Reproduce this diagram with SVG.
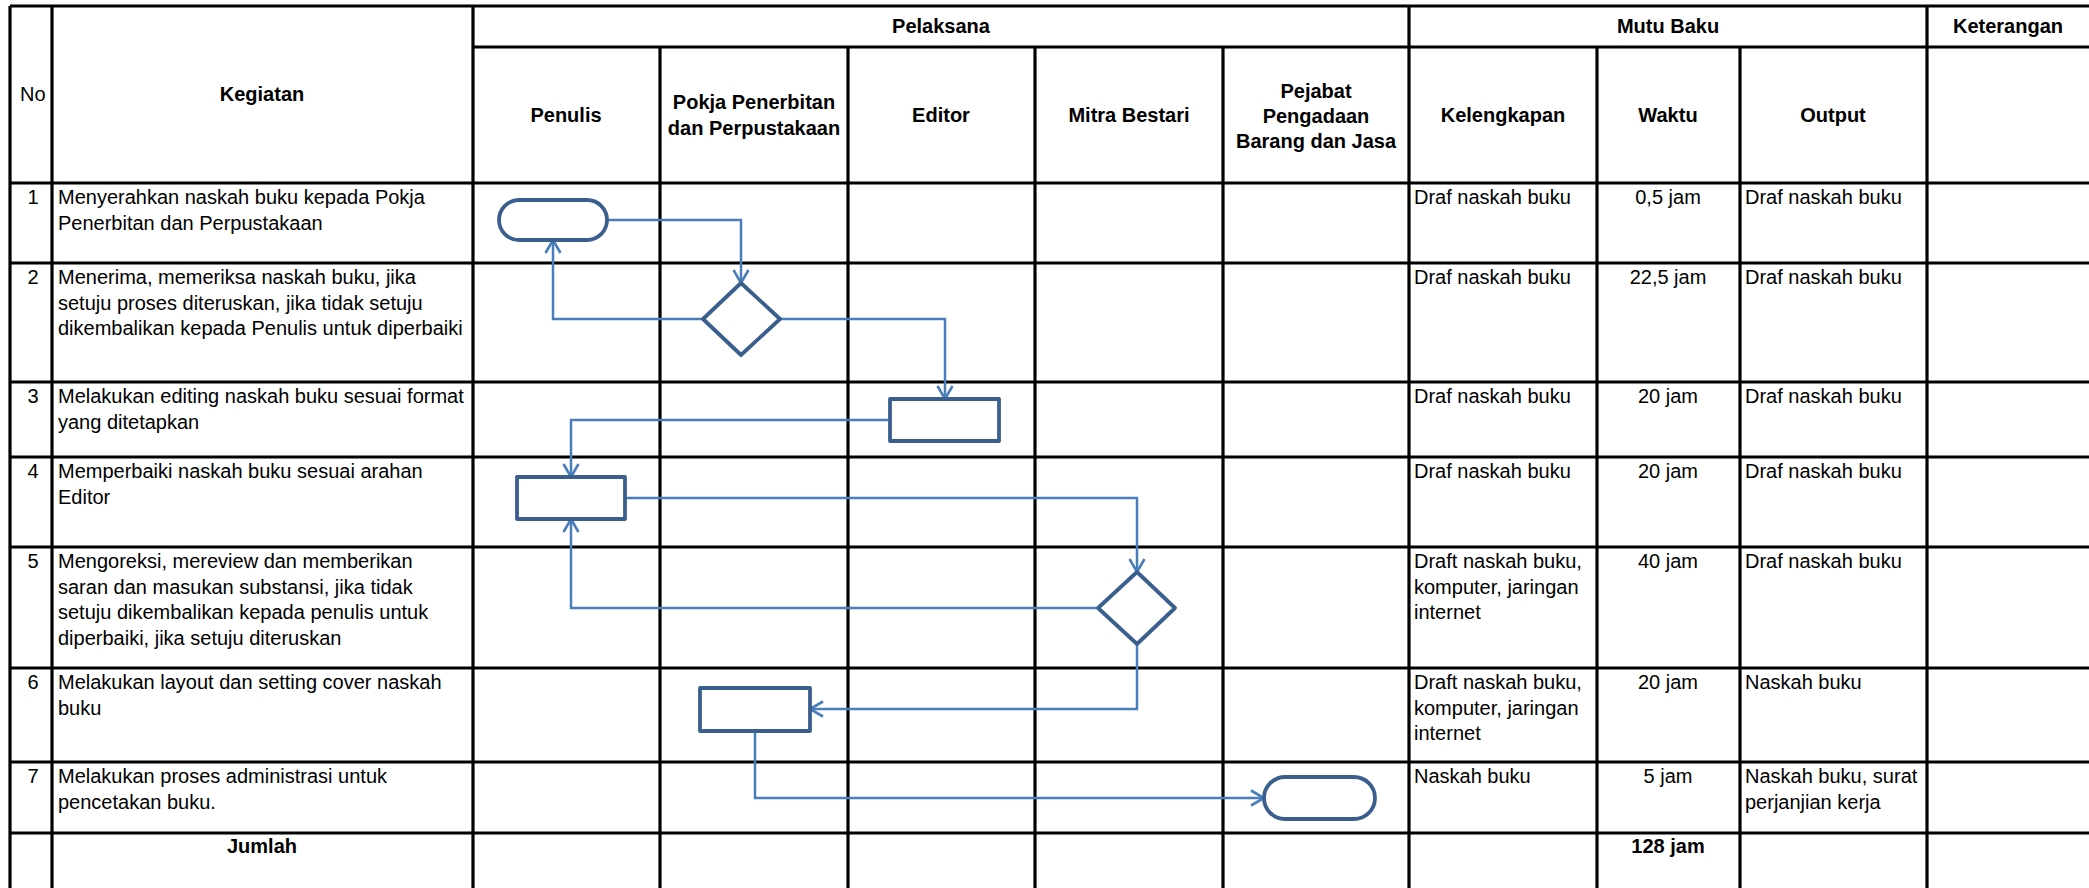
<svg xmlns="http://www.w3.org/2000/svg" width="2089" height="888" viewBox="0 0 2089 888">
<style>
text{font-family:"Liberation Sans",Arial,sans-serif;font-size:20px;fill:#000}
.b{font-weight:bold}
.c{text-anchor:middle}
.grid line{stroke:#000;stroke-width:3.2}
.shape{fill:#fff;stroke:#3A5F8E;stroke-width:3.8;stroke-linejoin:round}
.conn path{fill:none;stroke:#4A7EBB;stroke-width:2.5;marker-end:url(#arr)}
</style>
<defs>
<marker id="arr" markerUnits="userSpaceOnUse" markerWidth="20" markerHeight="20" viewBox="0 0 20 20" refX="16" refY="10" orient="auto">
<path d="M3,2.5 L16,10 L3,17.5" fill="none" stroke="#4A7EBB" stroke-width="2.6"/>
</marker>
</defs>
<rect width="2089" height="888" fill="#fff"/>
<g id="table" class="grid">
<line x1="10" y1="6" x2="2089" y2="6"/>
<line x1="473" y1="47" x2="2089" y2="47"/>
<line x1="10" y1="183" x2="2089" y2="183"/>
<line x1="10" y1="263" x2="2089" y2="263"/>
<line x1="10" y1="382" x2="2089" y2="382"/>
<line x1="10" y1="457" x2="2089" y2="457"/>
<line x1="10" y1="547" x2="2089" y2="547"/>
<line x1="10" y1="668" x2="2089" y2="668"/>
<line x1="10" y1="762" x2="2089" y2="762"/>
<line x1="10" y1="833" x2="2089" y2="833"/>
<line x1="10" y1="6" x2="10" y2="888"/>
<line x1="52" y1="6" x2="52" y2="888"/>
<line x1="473" y1="6" x2="473" y2="888"/>
<line x1="660" y1="47" x2="660" y2="888"/>
<line x1="848" y1="47" x2="848" y2="888"/>
<line x1="1035" y1="47" x2="1035" y2="888"/>
<line x1="1223" y1="47" x2="1223" y2="888"/>
<line x1="1409" y1="6" x2="1409" y2="888"/>
<line x1="1597" y1="47" x2="1597" y2="888"/>
<line x1="1740" y1="47" x2="1740" y2="888"/>
<line x1="1927" y1="6" x2="1927" y2="888"/>
</g>
<g id="header">
<text x="20" y="101">No</text>
<text class="b c" x="262" y="101">Kegiatan</text>
<text class="b c" x="941" y="33">Pelaksana</text>
<text class="b c" x="1668" y="33">Mutu Baku</text>
<text class="b c" x="2008" y="33">Keterangan</text>
<text class="b c" x="566" y="122">Penulis</text>
<text class="b c" x="754" y="109">Pokja Penerbitan</text>
<text class="b c" x="754" y="135">dan Perpustakaan</text>
<text class="b c" x="941" y="122">Editor</text>
<text class="b c" x="1129" y="122">Mitra Bestari</text>
<text class="b c" x="1316" y="98">Pejabat</text>
<text class="b c" x="1316" y="123">Pengadaan</text>
<text class="b c" x="1316" y="148">Barang dan Jasa</text>
<text class="b c" x="1503" y="122">Kelengkapan</text>
<text class="b c" x="1668" y="122">Waktu</text>
<text class="b c" x="1833" y="122">Output</text>
</g>
<g id="row1">
<text class="c" x="33" y="204">1</text>
<text x="58" y="204">Menyerahkan naskah buku kepada Pokja</text>
<text x="58" y="229.5">Penerbitan dan Perpustakaan</text>
<text x="1414" y="204">Draf naskah buku</text>
<text class="c" x="1668" y="204">0,5 jam</text>
<text x="1745" y="204">Draf naskah buku</text>
</g>
<g id="row2">
<text class="c" x="33" y="284">2</text>
<text x="58" y="284">Menerima, memeriksa naskah buku, jika</text>
<text x="58" y="309.5">setuju proses diteruskan, jika tidak setuju</text>
<text x="58" y="335">dikembalikan kepada Penulis untuk diperbaiki</text>
<text x="1414" y="284">Draf naskah buku</text>
<text class="c" x="1668" y="284">22,5 jam</text>
<text x="1745" y="284">Draf naskah buku</text>
</g>
<g id="row3">
<text class="c" x="33" y="403">3</text>
<text x="58" y="403">Melakukan editing naskah buku sesuai format</text>
<text x="58" y="428.5">yang ditetapkan</text>
<text x="1414" y="403">Draf naskah buku</text>
<text class="c" x="1668" y="403">20 jam</text>
<text x="1745" y="403">Draf naskah buku</text>
</g>
<g id="row4">
<text class="c" x="33" y="478">4</text>
<text x="58" y="478">Memperbaiki naskah buku sesuai arahan</text>
<text x="58" y="503.5">Editor</text>
<text x="1414" y="478">Draf naskah buku</text>
<text class="c" x="1668" y="478">20 jam</text>
<text x="1745" y="478">Draf naskah buku</text>
</g>
<g id="row5">
<text class="c" x="33" y="568">5</text>
<text x="58" y="568">Mengoreksi, mereview dan memberikan</text>
<text x="58" y="593.5">saran dan masukan substansi, jika tidak</text>
<text x="58" y="619">setuju dikembalikan kepada penulis untuk</text>
<text x="58" y="644.5">diperbaiki, jika setuju diteruskan</text>
<text x="1414" y="568">Draft naskah buku,</text>
<text x="1414" y="593.5">komputer, jaringan</text>
<text x="1414" y="619">internet</text>
<text class="c" x="1668" y="568">40 jam</text>
<text x="1745" y="568">Draf naskah buku</text>
</g>
<g id="row6">
<text class="c" x="33" y="689">6</text>
<text x="58" y="689">Melakukan layout dan setting cover naskah</text>
<text x="58" y="714.5">buku</text>
<text x="1414" y="689">Draft naskah buku,</text>
<text x="1414" y="714.5">komputer, jaringan</text>
<text x="1414" y="740">internet</text>
<text class="c" x="1668" y="689">20 jam</text>
<text x="1745" y="689">Naskah buku</text>
</g>
<g id="row7">
<text class="c" x="33" y="783">7</text>
<text x="58" y="783">Melakukan proses administrasi untuk</text>
<text x="58" y="808.5">pencetakan buku.</text>
<text x="1414" y="783">Naskah buku</text>
<text class="c" x="1668" y="783">5 jam</text>
<text x="1745" y="783">Naskah buku, surat</text>
<text x="1745" y="808.5">perjanjian kerja</text>
</g>
<g id="total">
<text class="b c" x="262" y="853">Jumlah</text>
<text class="b c" x="1668" y="853">128 jam</text>
</g>
<g id="connectors" class="conn">
<path d="M607,220 H741 V283"/>
<path d="M703,319 H553 V240"/>
<path d="M780,319 H945 V399"/>
<path d="M890,420 H571 V477"/>
<path d="M625,498 H1137 V572"/>
<path d="M1098,608 H571 V519"/>
<path d="M1137,644 V709 H810"/>
<path d="M755,731 V798 H1264"/>
</g>
<g id="start"><rect class="shape" x="499" y="200" width="108" height="40" rx="20"/></g>
<g id="decision1"><polygon class="shape" points="741,283 780,319 741,355 703,319"/></g>
<g id="editing"><rect class="shape" x="890" y="399" width="109" height="42"/></g>
<g id="revise"><rect class="shape" x="517" y="477" width="108" height="42"/></g>
<g id="decision2"><polygon class="shape" points="1137,572 1175,608 1137,644 1098,608"/></g>
<g id="layout"><rect class="shape" x="700" y="688" width="110" height="43"/></g>
<g id="end"><rect class="shape" x="1264" y="777" width="111" height="42" rx="21"/></g>
</svg>
